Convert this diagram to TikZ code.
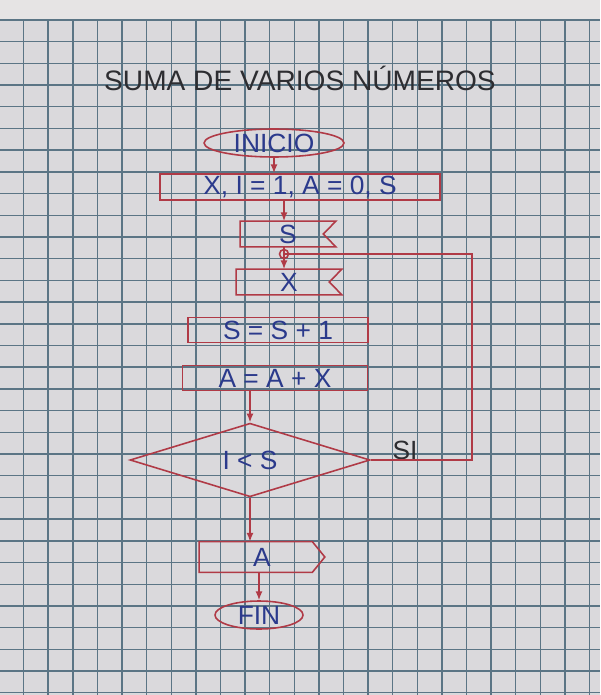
\documentclass[tikz,border=0pt]{standalone}
\usepackage{fontspec}
\setmainfont{Liberation Sans}
\usetikzlibrary{arrows.meta,positioning,shapes.geometric}
\definecolor{SheetPaper}{HTML}{DAD9DC}
\definecolor{SheetEdge}{HTML}{E6E4E4}
\definecolor{SheetGrid}{HTML}{5B7585}
\definecolor{InkRed}{HTML}{B03A46}
\definecolor{InkBlue}{HTML}{2B3A8C}
\definecolor{InkDark}{HTML}{2D2D31}
\tikzset{
  gridline/.style={draw=SheetGrid, line width=0.8pt},
  redline/.style={draw=InkRed, line width=0.9pt},
  flowarrow/.style={redline, -{Latex[length=5pt,width=4pt]}},
  word/.style={text=InkBlue, font=\fontsize{15}{18}\selectfont},
  endcap/.style={ellipse, redline, word, inner sep=0pt},
  procbox/.style={rectangle, redline, word, inner sep=0pt, minimum height=0.5cm},
  readbox/.style={rectangle, word, inner sep=0pt, minimum height=0.5cm},
  askbox/.style={diamond, redline, word, inner sep=0pt, minimum width=4.8cm, minimum height=1.3cm},
}

\begin{document}
\begin{tikzpicture}[x=0.02cm,y=-0.02cm]
  \useasboundingbox (0,0) rectangle (600,695);
  \fill[SheetEdge] (0,0) rectangle (600,695);
  \fill[SheetPaper] (0,20) rectangle (600,695);
  \foreach \gx in {0,...,24} \draw[gridline] (\gx*24.6-1,20) -- (\gx*24.6-1,695);
  \foreach \gy in {0,...,31} \draw[gridline] (0,20+\gy*21.7) -- (600,20+\gy*21.7);

  \node[text=InkDark, font=\fontsize{16}{19}\selectfont] (title) at (300,78) {SUMA DE VARIOS NÚMEROS};

  \node[endcap, minimum width=2.8cm, minimum height=0.56cm] (inicio) at (274,143) {INICIO};
  \node[procbox, minimum width=5.6cm, minimum height=0.52cm] (datos) at (300,187) {X, I = 1, A = 0, S};
  \node[readbox, minimum width=1.9cm] (leerS) at (288,234) {S};
  \node[readbox, minimum width=2.1cm] (leerX) at (289,282) {X};
  \node[procbox, minimum width=3.6cm] (sumaS) at (278,330) {S = S + 1};
  \node[procbox, minimum width=3.7cm] (sumaA) at (275,378) {A = A + X};
  \node[askbox] (pregunta) at (250,460) {I < S};
  \node[text=InkDark, font=\fontsize{15}{18}\selectfont] (si) at (405,450) {SI};
  \node[readbox, minimum width=2.5cm, minimum height=0.6cm] (mostrarA) at (262,557) {A};
  \node[endcap, minimum width=1.76cm, minimum height=0.56cm] (fin) at (259,615) {FIN};

  \draw[redline] (leerS.north east) -- (leerS.north west) -- (leerS.south west)
    -- (leerS.south east) -- ([xshift=-0.25cm]leerS.east) -- cycle;
  \draw[redline] (leerX.north east) -- (leerX.north west) -- (leerX.south west)
    -- (leerX.south east) -- ([xshift=-0.25cm]leerX.east) -- cycle;
  \draw[redline] (mostrarA.north west) -- ([xshift=-0.25cm]mostrarA.north east)
    -- (mostrarA.east) -- ([xshift=-0.25cm]mostrarA.south east) -- (mostrarA.south west) -- cycle;

  \coordinate (nudo) at (284,254);
  \coordinate (vuelta) at (472,254);
  \draw[redline] (nudo) circle[radius=0.09cm];

  \draw[flowarrow] (inicio.south) -- (inicio.south |- datos.north);
  \draw[flowarrow] (datos.south -| nudo) -- (leerS.north -| nudo);
  \draw[redline] (leerS.south -| nudo) -- (nudo);
  \draw[flowarrow] (nudo) -- (leerX.north -| nudo);
  \draw[flowarrow] (sumaA.south -| pregunta.north) -- (pregunta.north);
  \draw[redline] (pregunta.east) -| (vuelta) -- (nudo);
  \draw[flowarrow] (pregunta.south) -- (mostrarA.north -| pregunta.south);
  \draw[flowarrow] (mostrarA.south -| fin.north) -- (fin.north);
\end{tikzpicture}
\end{document}
